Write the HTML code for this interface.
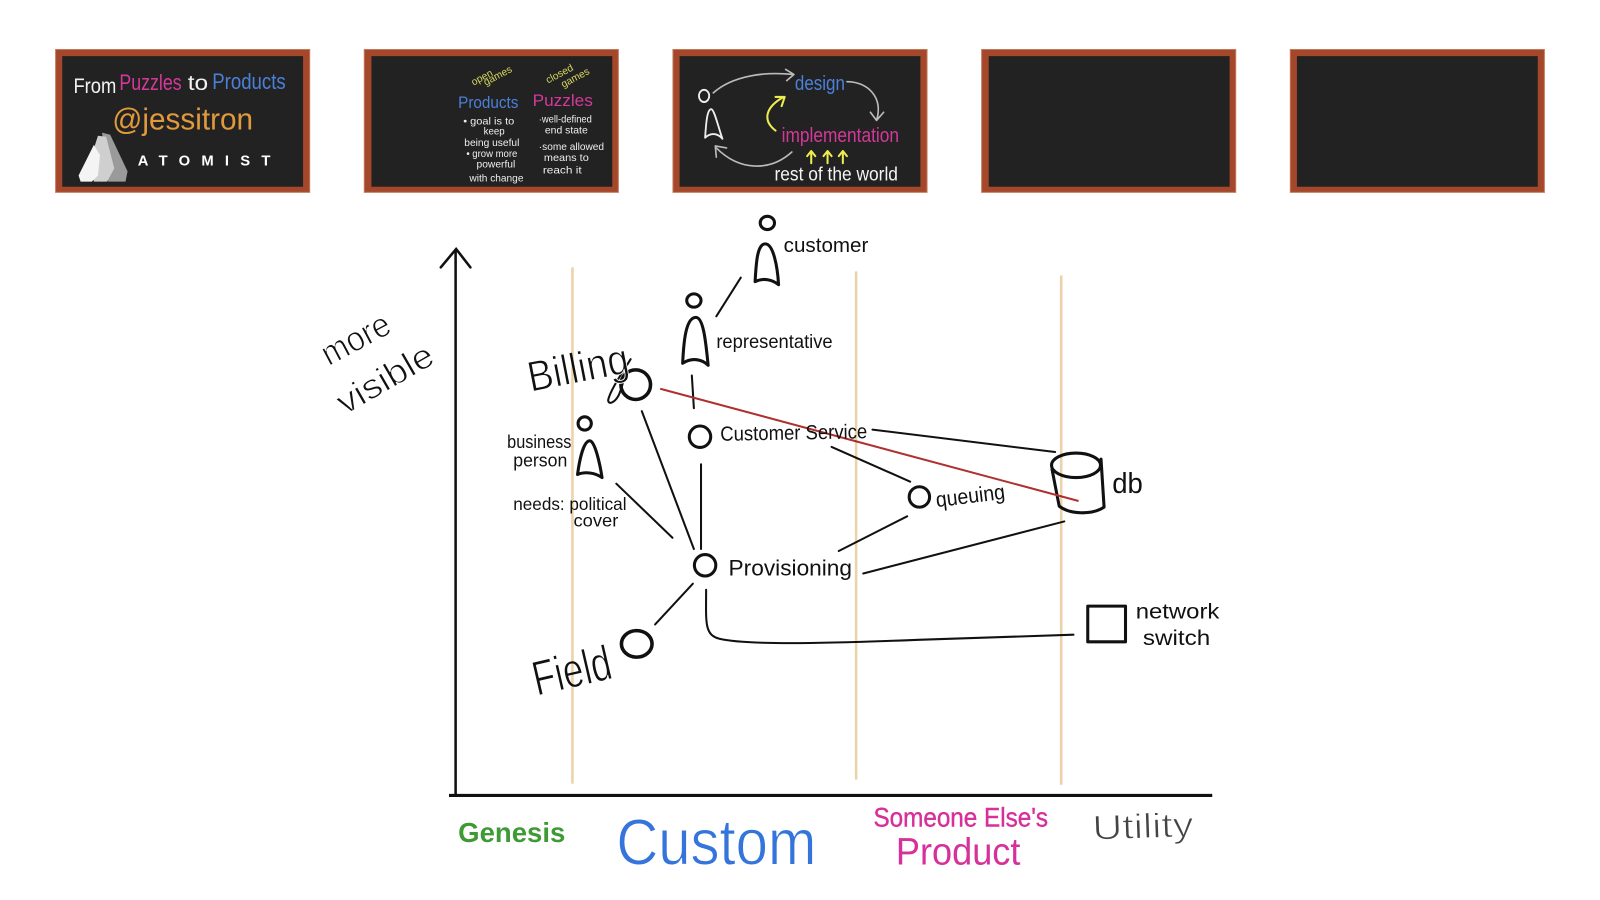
<!DOCTYPE html>
<html>
<head>
<meta charset="utf-8">
<style>
html,body{margin:0;padding:0;background:#fff;width:1600px;height:900px;overflow:hidden}
svg{display:block}
text{font-family:"Liberation Sans",sans-serif;fill:#111}
.b{fill:none;stroke:#111;stroke-width:3;stroke-linecap:round;stroke-linejoin:round}
.l{fill:none;stroke:#111;stroke-width:2;stroke-linecap:round;stroke-linejoin:round}
.o{stroke:#ecd2a8;stroke-width:2.5;fill:none;mix-blend-mode:multiply}
.f{fill:#a4472a;stroke:#c27a5c;stroke-width:1}
.i{fill:#222222}
.t{stroke:#fff;stroke-width:.9}
</style>
</head>
<body>
<svg width="1600" height="900" viewBox="0 0 1568 882" xmlns="http://www.w3.org/2000/svg">
<rect width="1568" height="882" fill="#fff"/>

<!-- Boards -->
<rect class="f" x="54.500" y="48.500" width="249" height="140"/><rect class="i" x="61" y="55" width="236" height="128"/>
<rect class="f" x="357" y="48.500" width="249" height="140"/><rect class="i" x="364" y="55" width="236" height="128"/>
<rect class="f" x="659.500" y="48.500" width="249" height="140"/><rect class="i" x="666" y="55" width="236" height="128"/>
<rect class="f" x="962" y="48.500" width="249" height="140"/><rect class="i" x="969" y="55" width="236" height="128"/>
<rect class="f" x="1264.500" y="48.500" width="249" height="140"/><rect class="i" x="1271" y="55" width="236" height="128"/>

<!-- Board 1 -->
<text x="72" y="91" font-size="21" style="fill:#f2f2f2" textLength="42" lengthAdjust="spacingAndGlyphs">From</text>
<text x="117" y="88" font-size="22" style="fill:#d5389a" textLength="61" lengthAdjust="spacingAndGlyphs">Puzzles</text>
<text x="184" y="88" font-size="21" style="fill:#f2f2f2" textLength="20" lengthAdjust="spacingAndGlyphs">to</text>
<text x="208" y="87" font-size="22" style="fill:#4a80d8" textLength="72" lengthAdjust="spacingAndGlyphs">Products</text>
<text x="110" y="127" font-size="30" style="fill:#e09a3c" textLength="138" lengthAdjust="spacingAndGlyphs">@jessitron</text>
<polygon points="100,130 108,132 125,168 123,178 106,178" fill="#9a9a9a"/>
<polygon points="96,133 104,134 112,165 105,178 92,178 88,158" fill="#cfcfcf"/>
<polygon points="92,142 98,152 96,172 90,178 79,178 77,172" fill="#f4f4f4"/>
<text x="135" y="162" font-size="14.500" font-weight="bold" style="fill:#fff" textLength="130">ATOMIST</text>

<!-- Board 2 -->
<text transform="translate(464,84) rotate(-28)" font-size="10" style="fill:#d8d860">open</text>
<text transform="translate(476,84) rotate(-28)" font-size="10" style="fill:#d8d860">games</text>
<text transform="translate(537,82) rotate(-28)" font-size="10" style="fill:#d8d860">closed</text>
<text transform="translate(552,86) rotate(-28)" font-size="10" style="fill:#d8d860">games</text>
<text x="449" y="106" font-size="16" style="fill:#4a80d8" textLength="59" lengthAdjust="spacingAndGlyphs">Products</text>
<text x="522" y="104" font-size="16" style="fill:#d5389a" textLength="59" lengthAdjust="spacingAndGlyphs">Puzzles</text>
<g font-size="9.500">
<text x="454" y="122" style="fill:#eee" textLength="50" lengthAdjust="spacingAndGlyphs">• goal is to</text>
<text x="474" y="132" style="fill:#eee">keep</text>
<text x="455" y="143" style="fill:#eee" textLength="54" lengthAdjust="spacingAndGlyphs">being useful</text>
<text x="457" y="154" style="fill:#eee" textLength="50" lengthAdjust="spacingAndGlyphs">• grow more</text>
<text x="467" y="164" style="fill:#eee" textLength="38" lengthAdjust="spacingAndGlyphs">powerful</text>
<text x="460" y="178" style="fill:#eee" textLength="53" lengthAdjust="spacingAndGlyphs">with change</text>
<text x="528" y="120" style="fill:#eee" textLength="52" lengthAdjust="spacingAndGlyphs">·well-defined</text>
<text x="534" y="131" style="fill:#eee" textLength="42" lengthAdjust="spacingAndGlyphs">end state</text>
<text x="528" y="147" style="fill:#eee" textLength="64" lengthAdjust="spacingAndGlyphs">·some allowed</text>
<text x="533" y="158" style="fill:#eee" textLength="44" lengthAdjust="spacingAndGlyphs">means to</text>
<text x="532" y="170" style="fill:#eee" textLength="38" lengthAdjust="spacingAndGlyphs">reach it</text>
</g>

<!-- Board 3 -->
<g fill="none" stroke-linecap="round" stroke-linejoin="round">
<ellipse cx="690" cy="94" rx="5" ry="6" stroke="#eee" stroke-width="1.800"/>
<path d="M691,135 C692,120 693,107 697,107 C700,107 704,125 708,136 C703,130 696,130 691,135Z" stroke="#eee" stroke-width="1.800"/>
<path d="M699,91 C718,74 750,70 777,73 M770,68 L778,73 L771,79" stroke="#bbb" stroke-width="1.600"/>
<path d="M830,80 C850,80 866,95 859,118 M853,110 L859,118 L866,110" stroke="#bbb" stroke-width="1.600"/>
<path d="M776,149 C755,168 725,168 702,145 M702,154 L701,143 L712,145" stroke="#bbb" stroke-width="1.600"/>
<path d="M760,128 C747,118 750,105 768,95 M760,95 L769,95 L766,104" stroke="#ecec50" stroke-width="2"/>
<path d="M795,160 L795,148 M791,153 L795,148 L799,153 M811,160 L811,148 M807,153 L811,148 L815,153 M826,160 L826,148 M822,153 L826,148 L830,153" stroke="#ecec50" stroke-width="2"/>
</g>
<text x="779" y="88" font-size="20" style="fill:#4a80d8" textLength="49" lengthAdjust="spacingAndGlyphs">design</text>
<text x="766" y="139" font-size="20" style="fill:#d5389a" textLength="115" lengthAdjust="spacingAndGlyphs">implementation</text>
<text x="759" y="177" font-size="19" style="fill:#f4f4f4" textLength="121" lengthAdjust="spacingAndGlyphs">rest of the world</text>

<!-- Axes -->
<path d="M446.500,246 L446.500,780" fill="none" stroke="#111" stroke-width="2.500"/>
<path d="M432,262 L447,244 L461,262" fill="none" stroke="#111" stroke-width="2.500" stroke-linecap="round"/>
<path d="M440,779.500 L1188,779.500" fill="none" stroke="#111" stroke-width="3"/>

<!-- People -->
<ellipse class="b" cx="752" cy="218.500" rx="7" ry="6.500"/>
<path class="b" d="M740,276 C741,258 742,239 750,239 C758,239 762,262 763,279 C757,274 748,272 740,276Z"/>
<ellipse class="b" cx="680" cy="294.500" rx="7" ry="6.500"/>
<path class="b" d="M669,356 C670,335 672,311 682,311 C690,311 692,340 694,358 C688,352 678,350 669,356Z"/>
<ellipse class="b" cx="573" cy="415" rx="6.500" ry="6.500"/>
<path class="b" d="M566,465 C568,450 572,432 578,432 C583,432 588,455 590,468 C583,463 573,462 566,465Z"/>

<!-- Nodes -->
<circle class="b" cx="623" cy="377" r="14.500" style="stroke-width:3.500"/>
<circle class="b" cx="686" cy="428" r="10.500"/>
<circle class="b" cx="691" cy="554" r="10.500"/>
<ellipse class="b" cx="624" cy="631" rx="15" ry="13" style="stroke-width:3.500"/>
<circle class="b" cx="901" cy="487" r="10"/>
<path class="l" d="M618,352 C612,362 598,382 596,392 C596,397 602,395 606,388 C610,380 612,368 614,362"/>

<!-- Connectors -->
<path class="l" d="M726,272 L702,310"/>
<path class="l" d="M678,368 L680,400"/>
<path class="l" d="M629,403 L680,538"/>
<path class="l" d="M687,455 L687,538"/>
<path class="l" d="M604,474 L659,527"/>
<path class="l" d="M679,572 L642,612"/>
<path class="l" d="M855,421 L1034,443"/>
<path class="l" d="M815,438 L892,472"/>
<path class="l" d="M889,506 L822,540"/>
<path class="l" d="M846,562 L1043,511"/>
<path class="l" d="M692,578 C692,610 690,622 705,626 C730,632 800,631 900,627 L1052,622"/>

<!-- DB -->
<ellipse class="b" cx="1054.500" cy="456" rx="24" ry="12"/>
<path class="b" d="M1031,460 L1038,496 C1048,504 1070,505 1082,497 L1079,450"/>
<!-- Switch -->
<rect class="b" x="1066" y="594" width="37" height="35"/>

<!-- Red line -->
<path d="M647,381 L1057,491" stroke="#b03030" stroke-width="2" fill="none"/>

<!-- Labels -->
<text x="768" y="247" font-size="20" textLength="83" lengthAdjust="spacingAndGlyphs">customer</text>
<text x="702" y="341" font-size="19" textLength="114" lengthAdjust="spacingAndGlyphs">representative</text>
<text class="t" transform="translate(520,384) rotate(-11)" font-size="42" textLength="100" lengthAdjust="spacingAndGlyphs">Billing</text>
<text x="497" y="439" font-size="18" textLength="63" lengthAdjust="spacingAndGlyphs">business</text>
<text x="503" y="457" font-size="18" textLength="53" lengthAdjust="spacingAndGlyphs">person</text>
<text x="503" y="500" font-size="17" textLength="111" lengthAdjust="spacingAndGlyphs">needs: political</text>
<text x="562" y="516" font-size="17" textLength="44" lengthAdjust="spacingAndGlyphs">cover</text>
<text x="706" y="432" font-size="20" textLength="144" lengthAdjust="spacingAndGlyphs" transform="rotate(-1 706 432)">Customer Service</text>
<text transform="translate(918,497) rotate(-7)" font-size="21" textLength="68" lengthAdjust="spacingAndGlyphs">queuing</text>
<text x="714" y="564" font-size="22" textLength="121" lengthAdjust="spacingAndGlyphs">Provisioning</text>
<text class="t" transform="translate(526,682) rotate(-13)" font-size="48" textLength="78" lengthAdjust="spacingAndGlyphs">Field</text>
<text x="1090" y="483" font-size="28" textLength="30" lengthAdjust="spacingAndGlyphs">db</text>
<text x="1113" y="606" font-size="21" textLength="82" lengthAdjust="spacingAndGlyphs">network</text>
<text x="1120" y="632" font-size="21" textLength="66" lengthAdjust="spacingAndGlyphs">switch</text>
<text class="t" transform="translate(322,359) rotate(-28)" font-size="34" textLength="72" lengthAdjust="spacingAndGlyphs">more</text>
<text class="t" transform="translate(338,407) rotate(-30)" font-size="34" textLength="104" lengthAdjust="spacingAndGlyphs">visible</text>

<text x="449" y="825" font-size="27" font-weight="bold" style="fill:#3f9a35" textLength="105" lengthAdjust="spacingAndGlyphs">Genesis</text>
<text class="t" x="604" y="847" font-size="64" style="fill:#3575db" textLength="196" lengthAdjust="spacingAndGlyphs">Custom</text>
<text x="856" y="810" font-size="26" style="fill:#d6309a;stroke:#d6309a;stroke-width:.4" textLength="171" lengthAdjust="spacingAndGlyphs">Someone Else's</text>
<text x="878" y="847" font-size="37" style="fill:#d6309a" textLength="122" lengthAdjust="spacingAndGlyphs">Product</text>
<text class="t" transform="translate(1071,823) rotate(-2)" font-size="34" style="fill:#444" textLength="99" lengthAdjust="spacingAndGlyphs">Utility</text>

<!-- Vertical guides -->
<line class="o" x1="561" y1="262" x2="561" y2="768"/>
<line class="o" x1="839" y1="266" x2="839" y2="764"/>
<line class="o" x1="1040" y1="270" x2="1040" y2="769"/>
</svg>
</body>
</html>
